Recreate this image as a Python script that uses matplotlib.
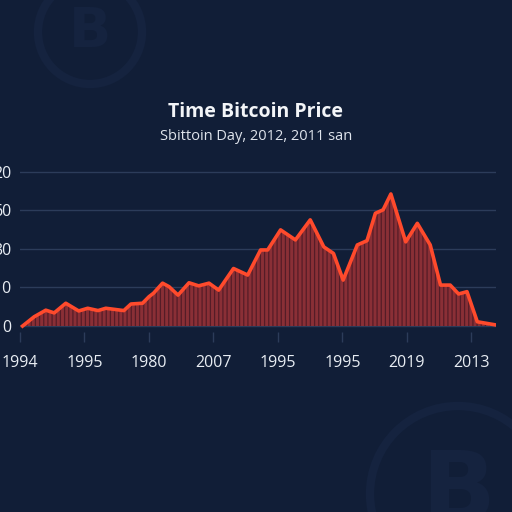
import matplotlib
matplotlib.use("Agg")
import matplotlib.pyplot as plt
from matplotlib.patches import Circle

# ---- data ----
x_pos = [0.04, 0.22, 0.40, 0.53, 0.71, 0.91, 1.05, 1.21, 1.33, 1.61, 1.72, 1.90,
         2.00, 2.07, 2.21, 2.31, 2.45, 2.62, 2.77, 2.93, 3.08, 3.31, 3.53, 3.73,
         3.84, 4.04, 4.27, 4.50, 4.71, 4.86, 5.01, 5.23, 5.38, 5.51, 5.63, 5.75,
         5.98, 6.16, 6.36, 6.52, 6.67, 6.80, 6.93, 7.09, 7.37]
price = [0.0, 2.4, 4.1, 3.4, 5.9, 3.9, 4.6, 4.0, 4.6, 4.0, 5.7, 5.9,
         7.6, 8.5, 11.1, 10.2, 8.0, 11.2, 10.4, 11.1, 9.3, 14.9, 13.2, 19.7,
         19.7, 24.9, 22.3, 27.5, 20.5, 18.8, 11.9, 21.0, 22.1, 29.2, 30.1, 34.2,
         21.8, 26.6, 21.0, 10.6, 10.6, 8.3, 8.9, 1.1, 0.3]
x_ticks = [0, 1, 2, 3, 4, 5, 6, 7]
x_labels = ["1994", "1995", "1980", "2007", "1995", "1995", "2019", "2013"]
y_ticks = [0, 10, 20, 30, 40]
y_labels = ["0", "10", "30", "60", "20"]
title = "Time Bitcoin Price"
subtitle = "Sbittoin Day, 2012, 2011 san"

BG = "#111e37"
plt.rcParams["hatch.linewidth"] = 0.9

fig = plt.figure(figsize=(5.12, 5.12), dpi=100, facecolor=BG)

# faint decorative coin logos
LOGO = "#15233f"
for (cx, cy, r, fs) in [(90, 32, 52, 40), (458, 494, 88, 70)]:
    fig.patches.append(Circle((cx / 512, 1 - cy / 512), r / 512, transform=fig.transFigure,
                              fill=False, edgecolor=LOGO, linewidth=6, zorder=0))
    fig.text(cx / 512, 1 - cy / 512, "B", color=LOGO, fontsize=fs, fontweight="bold",
             ha="center", va="center", zorder=0)

ax = fig.add_axes([20 / 512, 1 - 332 / 512, 476 / 512, 172 / 512])
ax.set_facecolor("none")
for s in ax.spines.values():
    s.set_visible(False)

ax.fill_between(x_pos, price, 0, facecolor="#8a2f36", edgecolor="#551c27",
                hatch="||||", linewidth=0, zorder=2)
ax.plot(x_pos, price, color="#ff4a2c", linewidth=2.6, solid_joinstyle="round", zorder=3)

ax.set_xlim(0.015, 7.38)
ax.set_ylim(-1.55, 43.0)
ax.set_yticks(y_ticks)
ax.set_yticklabels(y_labels)
ax.set_xticks(x_ticks)
ax.set_xticklabels(x_labels)
ax.grid(axis="y", color="#2c3c5a", linewidth=1.0, zorder=1)
ax.tick_params(axis="y", length=0, pad=6, labelsize=11.5, labelcolor="#e8edf3")
ax.tick_params(axis="x", direction="out", length=7.5, width=1, color="#2c3c5a",
               pad=9, labelsize=11.5, labelcolor="#e8edf3")
for lab in ax.get_xticklabels() + ax.get_yticklabels():
    lab.set_family("Open Sans")

fig.text(0.5, 1 - 112 / 512, title, ha="center", va="center", color="#f3f5f8",
         fontsize=14, fontweight="bold", family="Open Sans")
fig.text(0.5, 1 - 137 / 512, subtitle, ha="center", va="center", color="#dfe4ec",
         fontsize=10.5, family="Open Sans")

fig.savefig("out.png", dpi=100, facecolor=BG)
